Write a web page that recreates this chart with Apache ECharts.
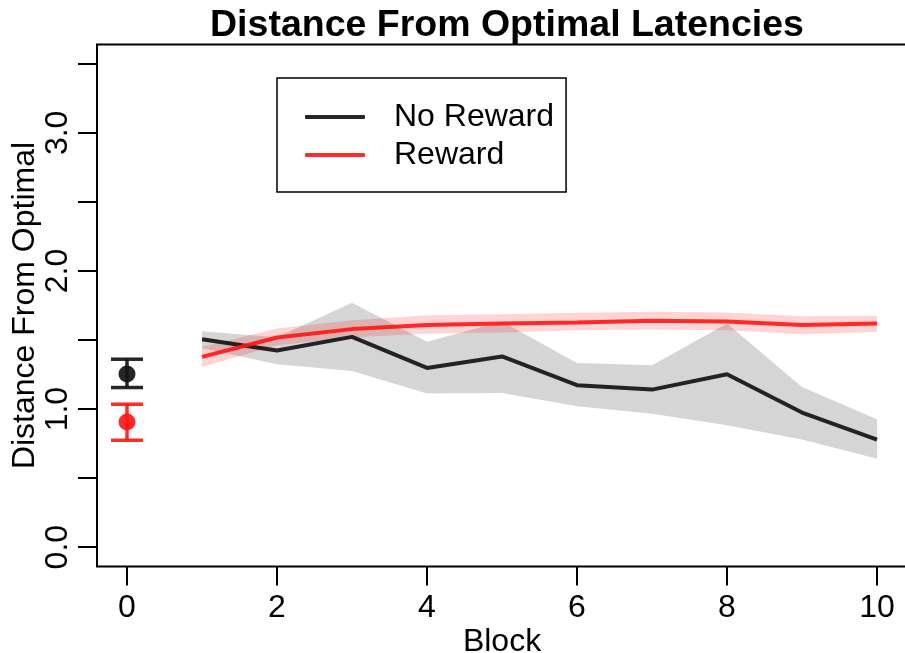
<!DOCTYPE html>
<html>
<head>
<meta charset="utf-8">
<script src="https://cdn.jsdelivr.net/npm/echarts@6/dist/echarts.min.js"></script>
<style>
  html, body { margin: 0; padding: 0; background: #fff; overflow: hidden; }
  #chart { width: 910px; height: 653px; }
</style>
</head>
<body>
<div id="chart"></div>
<script>
// Blocks 1-10 and the baseline block 0
const blocks = [1, 2, 3, 4, 5, 6, 7, 8, 9, 10];

const noRewardMean  = [1.506, 1.424, 1.523, 1.298, 1.381, 1.173, 1.141, 1.252, 0.975, 0.779];
const noRewardUpper = [1.564, 1.520, 1.770, 1.487, 1.634, 1.334, 1.318, 1.620, 1.160, 0.926];
const noRewardLower = [1.440, 1.325, 1.276, 1.112, 1.117, 1.020, 0.967, 0.883, 0.779, 0.641];

const rewardMean  = [1.378, 1.518, 1.579, 1.608, 1.620, 1.627, 1.639, 1.634, 1.608, 1.620];
const rewardUpper = [1.450, 1.584, 1.644, 1.680, 1.687, 1.697, 1.704, 1.700, 1.673, 1.675];
const rewardLower = [1.305, 1.463, 1.518, 1.547, 1.555, 1.571, 1.577, 1.571, 1.542, 1.559];

// Baseline (block 0): [block, mean, lower, upper]
const baselineNoReward = [0, 1.254, 1.156, 1.361];
const baselineReward   = [0, 0.907, 0.774, 1.035];

const xTicks = [0, 2, 4, 6, 8, 10];
const yTicks = [0, 0.5, 1, 1.5, 2, 2.5, 3, 3.5];
const yTickLabels = [0, 1, 2, 3];

const FONT = '"Liberation Sans", Arial, Helvetica, sans-serif';
const FS = 32;
const BLACK = 'rgba(20,20,20,0.92)';
const RED = 'rgba(255,20,20,0.9)';

function bandSeries(lower, upper, fill) {
  return {
    type: 'custom',
    z: 1,
    silent: true,
    data: blocks.map((b, i) => [b, lower[i], upper[i]]),
    encode: { x: 0, y: [1, 2] },
    renderItem: function (params, api) {
      if (params.dataIndex !== 0) return null;
      const pts = [];
      for (let i = 0; i < blocks.length; i++) pts.push(api.coord([blocks[i], upper[i]]));
      for (let i = blocks.length - 1; i >= 0; i--) pts.push(api.coord([blocks[i], lower[i]]));
      return { type: 'polygon', shape: { points: pts }, style: { fill: fill } };
    }
  };
}

function errorBarSeries(point, color) {
  return {
    type: 'custom',
    z: 4,
    silent: true,
    data: [point],
    encode: { x: 0, y: [1, 2, 3] },
    renderItem: function (params, api) {
      const c = api.coord([api.value(0), api.value(1)]);
      const lo = api.coord([api.value(0), api.value(2)]);
      const hi = api.coord([api.value(0), api.value(3)]);
      const cap = 16;
      const ls = { stroke: color, lineWidth: 3.5 };
      return {
        type: 'group',
        children: [
          { type: 'line', shape: { x1: c[0], y1: lo[1], x2: c[0], y2: hi[1] }, style: ls },
          { type: 'line', shape: { x1: c[0] - cap, y1: lo[1], x2: c[0] + cap, y2: lo[1] }, style: ls },
          { type: 'line', shape: { x1: c[0] - cap, y1: hi[1], x2: c[0] + cap, y2: hi[1] }, style: ls },
          { type: 'circle', shape: { cx: c[0], cy: c[1], r: 8.5 }, style: { fill: color } }
        ]
      };
    }
  };
}

const chart = echarts.init(document.getElementById('chart'), null, { renderer: 'canvas' });

chart.setOption({
  animation: false,
  backgroundColor: '#fff',
  textStyle: { fontFamily: FONT },
  title: {
    text: 'Distance From Optimal Latencies',
    left: 502,
    textAlign: 'center',
    top: 2,
    textStyle: { fontFamily: FONT, fontSize: 37.5, fontWeight: 'bold', color: '#000' }
  },
  legend: {
    data: ['No Reward', 'Reward'],
    orient: 'vertical',
    left: 277,
    top: 78,
    width: 289,
    padding: [23, 12, 21, 28],
    itemWidth: 60,
    itemHeight: 4,
    itemGap: 6,
    icon: 'roundRect',
    borderColor: '#000',
    borderWidth: 1.5,
    backgroundColor: '#fff',
    selectedMode: false,
    textStyle: { fontFamily: FONT, fontSize: FS, color: '#000', padding: [0, 0, 0, 24] }
  },
  grid: {
    left: 97,
    right: 3,
    top: 44.5,
    bottom: 86.5,
    outerBoundsMode: 'none',
    containLabel: false,
    show: true,
    borderColor: '#000',
    borderWidth: 2,
    backgroundColor: 'transparent'
  },
  xAxis: {
    type: 'value',
    min: -0.4,
    max: 10.4,
    name: 'Block',
    nameLocation: 'middle',
    nameMoveOverlap: false,
    nameGap: 60,
    nameTextStyle: { fontFamily: FONT, fontSize: FS, color: '#000' },
    axisLine: { show: false, onZero: false },
    splitLine: { show: false },
    axisTick: { show: true, customValues: xTicks, length: 19, lineStyle: { color: '#000', width: 2 } },
    axisLabel: { customValues: xTicks, margin: 26, fontSize: FS, color: '#000', fontFamily: FONT }
  },
  yAxis: {
    type: 'value',
    min: -0.14,
    max: 3.64,
    name: 'Distance From Optimal',
    nameLocation: 'middle',
    nameMoveOverlap: false,
    nameGap: 56,
    nameRotate: 90,
    nameTextStyle: { fontFamily: FONT, fontSize: FS, color: '#000' },
    axisLine: { show: false, onZero: false },
    splitLine: { show: false },
    axisTick: { show: true, customValues: yTicks, length: 19, lineStyle: { color: '#000', width: 2 } },
    axisLabel: {
      customValues: yTickLabels,
      rotate: 90,
      margin: 23,
      fontSize: FS,
      color: '#000',
      fontFamily: FONT,
      formatter: v => v.toFixed(1)
    }
  },
  series: [
    bandSeries(noRewardLower, noRewardUpper, 'rgba(0,0,0,0.165)'),
    bandSeries(rewardLower, rewardUpper, 'rgba(255,0,0,0.17)'),
    {
      name: 'No Reward',
      type: 'line',
      z: 3,
      symbol: 'none',
      data: blocks.map((b, i) => [b, noRewardMean[i]]),
      itemStyle: { color: BLACK },
      lineStyle: { color: BLACK, width: 4 }
    },
    {
      name: 'Reward',
      type: 'line',
      z: 3,
      symbol: 'none',
      data: blocks.map((b, i) => [b, rewardMean[i]]),
      itemStyle: { color: RED },
      lineStyle: { color: RED, width: 4 }
    },
    errorBarSeries(baselineNoReward, BLACK),
    errorBarSeries(baselineReward, RED)
  ]
});
</script>
</body>
</html>
